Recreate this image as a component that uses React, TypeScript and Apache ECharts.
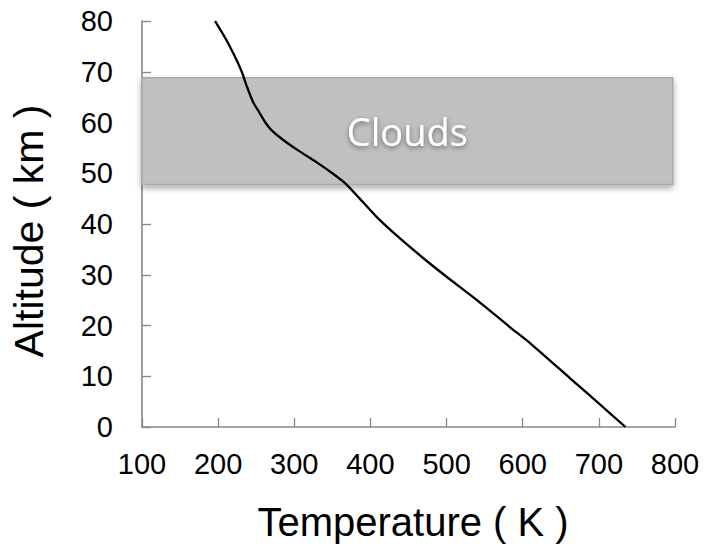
import React, { useEffect, useRef } from "react";
import * as echarts from "echarts";

// Venus atmosphere temperature profile: [temperature K, altitude km]
const temperatureK = [735, 701, 663, 610, 583, 540, 500, 470, 440, 410, 386, 367, 350, 329, 305, 286, 270, 262, 254, 246, 238, 231, 222, 211, 204, 196];
const altitudeKm = [0, 4.5, 9.5, 16.5, 19.7, 25, 29.6, 33.2, 37, 41.1, 45, 48, 50, 52.2, 54.5, 56.5, 58.5, 60, 62, 64, 67, 70, 73, 76.2, 78, 80];

// Cloud layer band
const cloudLabel = "Clouds";
const cloudBottomKm = 47.8;
const cloudTopKm = 68.8;
const cloudLeftK = 100;
const cloudRightK = 797;

const xName = "Temperature ( K )";
const yName = "Altitude ( km )";

export default function App() {
  const ref = useRef<HTMLDivElement>(null);

  useEffect(() => {
    document.body.style.margin = "0";
    if (!ref.current) return;
    const chart = echarts.init(ref.current, null, { renderer: "svg" });
    const profile = temperatureK.map((t, i) => [t, altitudeKm[i]]);
    const axisColor = "#868686";
    const font = "'Liberation Sans', Arial, sans-serif";

    chart.setOption({
      animation: false,
      backgroundColor: "#ffffff",
      grid: { left: 142, right: 29, top: 21, bottom: 120 },
      xAxis: {
        type: "value",
        min: 100,
        max: 800,
        interval: 100,
        splitLine: { show: false },
        axisLine: { lineStyle: { color: axisColor, width: 1.6 } },
        axisTick: { inside: true, length: 9, lineStyle: { color: axisColor, width: 1.3 } },
        axisLabel: { color: "#000", fontSize: 29, fontFamily: font, margin: 22 },
      },
      yAxis: {
        type: "value",
        min: 0,
        max: 80,
        interval: 10,
        splitLine: { show: false },
        axisLine: { show: true, lineStyle: { color: axisColor, width: 1.6 } },
        axisTick: { show: true, inside: true, length: 9, lineStyle: { color: axisColor, width: 1.3 } },
        axisLabel: { color: "#000", fontSize: 29, fontFamily: font, margin: 29 },
      },
      series: [
        {
          type: "line",
          data: profile,
          showSymbol: false,
          smooth: 0.2,
          lineStyle: { color: "#000", width: 2.3 },
          z: 3,
          markArea: {
            silent: true,
            z: 1,
            itemStyle: {
              color: "#c0c0c0",
              borderColor: "#a8a8a8",
              borderWidth: 1.5,
              shadowColor: "rgba(0,0,0,0.35)",
              shadowBlur: 6,
              shadowOffsetY: 3,
            },
            label: {
              show: true,
              position: "inside",
              color: "#ffffff",
              fontSize: 38,
              fontFamily: "'Open Sans', sans-serif",
              textShadowColor: "rgba(0,0,0,0.45)",
              textShadowBlur: 5,
              textShadowOffsetY: 2,
            },
            data: [
              [
                { name: cloudLabel, xAxis: cloudLeftK, yAxis: cloudBottomKm },
                { xAxis: cloudRightK, yAxis: cloudTopKm },
              ],
            ],
          },
        },
      ],
      graphic: [
        {
          type: "text",
          x: 413,
          y: 522,
          style: {
            text: xName,
            fontSize: 40,
            fontFamily: font,
            fill: "#000",
            textAlign: "center",
            textVerticalAlign: "middle",
          },
        },
        {
          type: "text",
          x: 29,
          y: 231,
          rotation: Math.PI / 2,
          style: {
            text: yName,
            fontSize: 41,
            fontFamily: font,
            fill: "#000",
            textAlign: "center",
            textVerticalAlign: "middle",
          },
        },
      ],
    });

    return () => chart.dispose();
  }, []);

  return <div ref={ref} style={{ width: 704, height: 547 }} />;
}
